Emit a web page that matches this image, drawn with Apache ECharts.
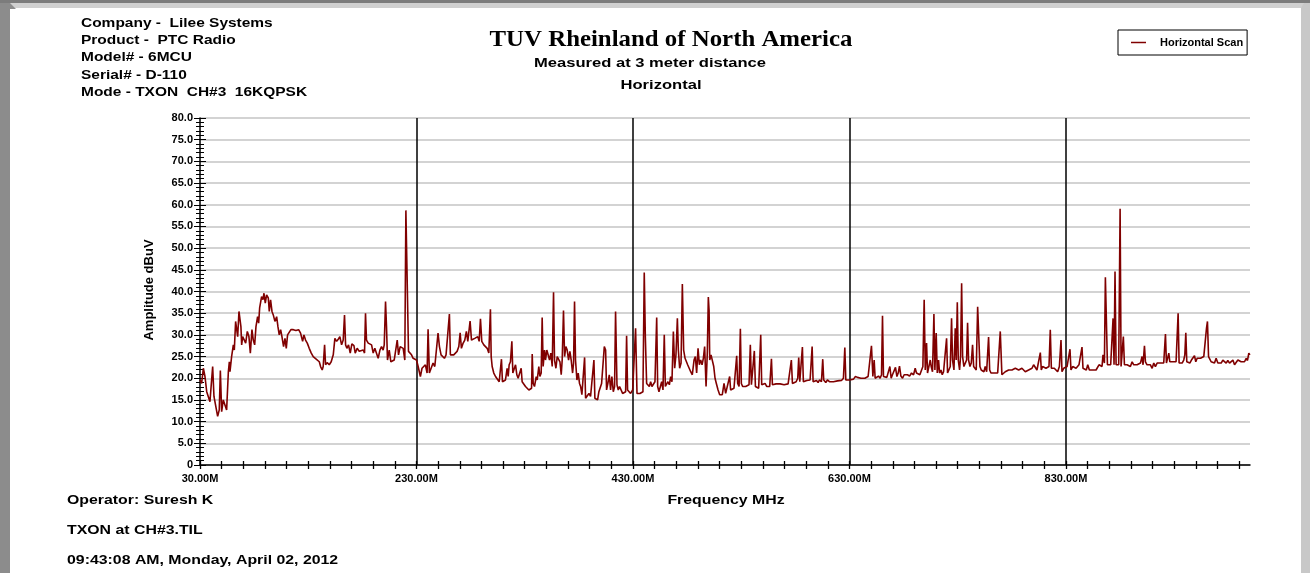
<!DOCTYPE html>
<html>
<head>
<meta charset="utf-8">
<script src="https://cdn.jsdelivr.net/npm/echarts@6/dist/echarts.min.js"></script>
<style>
  html, body { margin: 0; padding: 0; background: #fff; }
  #chart { width: 1310px; height: 573px; }
</style>
</head>
<body>
<div id="chart"></div>
<script>
// Radiated emission scan, horizontal antenna: [frequency MHz, amplitude dBuV]
const scan30to232 = [
  [30,19.6],[31.5,18.8],[33.1,22.3],[34.6,20.4],[36.2,16.9],[37.7,16.5],[39.2,14.6],[41.7,22.7],[42.9,15.8],[44.5,15.4],
  [46.3,11.2],[47.8,12.7],[48.8,21.8],[50,12.3],[51.5,15],[53.1,15.4],[54.6,12.7],[56.2,21.5],[57.1,23.8],[57.7,21.5],
  [59.2,25],[60.8,27.7],[61.7,26.5],[62.9,33.1],[63.8,33.5],[64.8,29.6],[66,35.4],[66.9,35],[67.8,31.9],[68.5,27.7],
  [69.4,29.6],[70.9,29.6],[72.2,28.1],[73.7,30.8],[75.2,29.6],[76.5,25.8],[78,31.2],[79.2,28.8],[80.5,27.7],[81.7,31.9],
  [83.2,34.2],[84.2,32.7],[85.1,36.2],[86,36.2],[86.9,38.8],[88.2,38.1],[89.1,39.6],[90.3,37.3],[91.5,39.2],[93.1,38.5],
  [94,35.4],[95.2,38.1],[96.5,35.4],[97.7,34.6],[99.2,33.1],[100.8,34.2],[102,31.9],[103.2,30],[104.5,31.2],[105.7,29.6],
  [107.2,27.3],[108.5,29.2],[109.7,26.9],[110.9,30],[112.5,30.4],[114,31.2],[116.2,31.2],[118.6,31],[121.1,31.2],[122.9,30.4],
  [124.8,28.5],[126,30],[127.5,28.8],[129.1,28.1],[130.9,26.9],[132.8,25.8],[134.6,25],[136.5,24.6],[138.3,24.2],[140.2,23.8],
  [141.4,22.7],[142.9,21.9],[143.8,22.7],[145.1,27.7],[146,23.1],[147.5,23.6],[149.4,23.1],[151.2,23.8],[153.1,25.4],[154.6,29.2],
  [156.2,28.5],[157.7,29],[159.2,29.6],[160.8,27.7],[162.3,28.8],[163.5,34.6],[164.5,27.7],[165.7,26.9],[167.2,27.7],[168.8,25.8],
  [170.3,27.9],[172.2,27.5],[173.4,25.8],[175.2,26.9],[177.1,26.2],[178.9,25.9],[180.8,26.5],[182,25.8],[182.9,35],[183.8,28.8],
  [185.4,28.1],[186.9,28.5],[188.5,27.7],[190,25.8],[191.5,26.9],[193.1,26.5],[194.6,24.6],[196.2,26.5],[197.7,27.3],[199.2,26.5],
  [200.2,27.7],[201.4,37.7],[202.3,31.9],[203.2,24.2],[204.8,26.5],[206.3,23.8],[207.8,23.5],[209.4,24.2],[210.9,23.8],[212.2,28.8],
  [213.4,25.4],[214.9,27.3],[216.5,27.7],[217.7,26.9],[219.2,24.2],[220.2,58.7],[221.4,58.5],[222.6,26.2],[223.8,25.8],[225.4,25.4],
  [226.9,24.6],[228.5,25],[230,24.2],[231.5,22.7]
];
const scan233to510 = [
  [233.6,20.4],[235.1,22.3],[236.7,22.7],[238.2,23.1],[239.8,21.2],[240.7,31.3],[241.9,21.2],[243.5,21.5],[245.3,23.5],[246.9,22.7],
  [248.4,23.1],[249.9,30.4],[251.2,27.3],[252.7,25.4],[254.3,25],[255.8,24.6],[257.3,25.4],[258.9,25],[260.4,34.8],[261.3,25.4],
  [262.9,25.2],[264.4,25.4],[266,25.4],[267.5,26.2],[269.1,27.3],[270.3,30.5],[271.5,26.9],[273.1,28.1],[274.6,28.8],[276.1,30.8],
  [277.4,28.5],[278.6,28.8],[279.5,33.2],[280.8,28.8],[282.3,29.2],[283.8,29.2],[285.4,28.8],[286.6,29.6],[287.9,28.5],[289.1,33.7],
  [290.3,28.5],[292.2,27.7],[293.7,27.3],[295.3,26.9],[296.8,25.8],[298.3,35.9],[299,25],[299.9,22.7],[301.4,21.2],[303,20.4],
  [304.5,20],[306.4,19.2],[307.6,18.8],[308.5,24.4],[309.4,19.2],[310.7,18.8],[312.2,19.6],[313.7,22.3],[314.7,20.4],[315.6,23.1],
  [316.8,23.8],[318.1,28.5],[319,21.2],[320.2,20.8],[321.5,23.1],[322.7,20.8],[323.9,20],[325.5,19.6],[326.7,22.3],[327.6,19.2],
  [329.2,18.8],[330.7,18.1],[332.2,18.5],[333.8,17.3],[335.3,16.9],[336.3,17.7],[336.9,25.6],[337.8,18.8],[339,18.1],[340.6,20.4],
  [341.5,19.6],[343,22.7],[344,20.4],[345.2,21.2],[346.1,34],[347,22.7],[348.3,26.5],[349.2,24.2],[350.4,26.5],[351.7,26.2],
  [352.9,24.2],[354.1,25.8],[355.4,22.7],[356.6,39.8],[357.5,24.2],[358.8,22.3],[360,25],[361.2,25.2],[362.5,23.8],[363.7,20.8],
  [364.6,24.2],[365.8,35.6],[366.8,25],[368,27.3],[369.2,26.5],[370.5,24.2],[371.7,26.2],[372.9,24.2],[374.2,21.2],[375.1,23.5],
  [376,37.7],[376.9,24.2],[378.2,19.6],[379.4,21.2],[380.6,18.8],[381.6,18.1],[382.8,16.2],[384,15.8],[385.3,24.8],[386.2,15.4],
  [387.7,15.8],[389.3,16.5],[390.8,15.8],[392.4,16.2],[393.9,24.2],[394.8,15.4],[396.1,15.8],[397.3,15],[398.5,16.9],[399.8,17.3],
  [401,18.8],[402.2,19.2],[403.5,27.3],[404.7,26.5],[405.6,17.3],[406.8,18.8],[408.1,20.8],[409.3,17.3],[410.5,20.4],[411.8,16.9],
  [413,18.1],[413.9,35.4],[415.2,18.5],[416.4,17.3],[417.6,18.1],[418.9,17.7],[420.4,16.5],[422,16.2],[423.2,16.9],[424.1,29.8],
  [425,17.3],[426.3,17.3],[427.8,16.5],[429.7,17.3],[431.2,16.9],[432.4,31.5],[433.7,16.5],[434.9,16.9],[436.4,16.5],[438,16.5],
  [439.2,16.9],[440.4,44.4],[441.4,29.6],[442.6,18.8],[443.8,19.2],[445.1,18.1],[446.3,19.2],[447.5,18.1],[448.8,18.5],[450.3,19.2],
  [451.9,34],[452.8,18.1],[454,16.9],[455.2,17.3],[456.5,19.2],[457.7,17.3],[458.9,30],[459.9,18.1],[461.1,17.7],[462.3,19.2],
  [463.6,18.5],[464.8,20.4],[466,19.2],[467.3,30.8],[468.5,22.3],[469.7,25.4],[471,33.8],[471.9,26.5],[473.1,22.3],[474.4,23.5],
  [475.6,41.7],[476.8,26.5],[478.1,24.6],[479.3,24.2],[480.5,23.1],[482,23.5],[483.3,21.5],[484.8,20.8],[486.4,24.2],[487.6,25],
  [488.8,21.2],[490.1,26.9],[491.3,23.1],[492.5,24.2],[493.8,23.1],[495,24.6],[496.2,27.3],[497.5,18.1],[498.7,26.2],[499.6,38.7],
  [500.3,35.6],[500.9,24.2],[502.1,25.4],[503.3,25],[504.6,22.7],[505.8,20],[507,18.8],[508.6,17.3],[510.1,16.2]
];
const scan510to770 = [
  [511,16.5],[512.5,16.2],[514.1,18.8],[515.6,16.5],[517.2,16.9],[519.3,20.4],[520.2,17.3],[521.8,17.7],[523.3,17.7],[524.9,18.1],
  [525.8,25.2],[526.7,18.8],[528,18.1],[529.2,31.4],[530.1,18.8],[531.3,18.1],[532.6,17.7],[534.1,18.1],[535.7,17.7],[537.2,18.5],
  [538.4,27.7],[539.4,18.5],[540.9,18.1],[542.1,26.3],[543.1,18.1],[544.9,18.1],[546.1,17.7],[548,30],[548.9,18.5],[550.5,18.1],
  [552,18.8],[553.5,18.1],[555.1,18.5],[556.3,18.1],[557.9,24.5],[558.8,18.5],[560.3,18.2],[562.2,18.7],[564,18.8],[565.9,18.7],
  [567.7,19],[569.6,18.5],[571.4,18.8],[573.3,18.7],[574.8,19],[576.3,24.2],[577.3,18.8],[578.8,19],[580.7,19.2],[582.2,20],
  [583.1,24.8],[584.1,19.2],[585,19.4],[586.5,27.2],[587.4,19.2],[589,19.2],[590.5,19.5],[592.1,19.2],[593.6,19.6],[595.5,27.3],
  [596.4,19.2],[597.9,19],[599.5,19.5],[601,19],[602.2,19.6],[604.1,19.2],[605.3,24.4],[606.2,19.6],[608.1,19],[609.6,19.6],
  [611.5,19.2],[613.3,19.5],[615.2,19.2],[617,19.6],[618.9,19.4],[620.7,19.8],[622.6,19.5],[624.4,20],[625.7,27.1],[626.6,19.6],
  [628.1,19.5],[630,19.6],[631.8,20],[633.7,19.8],[635.5,20.4],[637.4,20.2],[638.9,20.5],[640.5,20],[642.3,20.2],[644.2,20],
  [645.7,20.4],[647.2,20.4],[648.8,20.8],[650.3,27.5],[651.6,20.4],[652.8,24.2],[653.7,20],[655.3,20.4],[656.8,20.5],[658.3,20],
  [659.6,20.8],[660.5,34.4],[661.4,20.4],[663,20.8],[664.5,20.2],[666.1,20.4],[667.3,22.7],[668.5,20],[669.7,20.8],[671.3,21.2],
  [672.5,22.5],[673.8,20.4],[675,21.2],[676.2,22.8],[677.5,20.5],[679,20],[680.5,20.8],[682.1,20.4],[683.6,20.8],[685.5,20.5],
  [687.3,21.2],[689.2,20.8],[690.7,22.3],[691.9,21.2],[693.5,20.8],[695,20.8],[696.6,21.2],[697.8,22.7],[699,38.1],[700,21.9],
  [701.2,28.1],[702.1,21.2],[703.4,21.5],[704.6,24.2],[705.5,22.7],[706.7,21.5],[708,34.8],[708.9,21.9],[710.1,30.4],[711.1,21.2],
  [712.3,24.2],[713.2,21.2],[714.5,21.9],[715.7,20.8],[716.9,21.5],[718.1,21.2],[719.7,29.2],[720.6,21.2],[721.8,21.9],[723.1,22.7],
  [724.3,33.8],[725.2,24.2],[726.5,21.9],[727.7,31.5],[728.6,24.2],[729.6,37.5],[730.5,24.2],[731.7,21.9],[732.6,25],[733.6,41.9],
  [734.5,25],[735.7,22.7],[737,23.5],[738.2,24.2],[739.1,32.8],[740,24.2],[741.3,22.7],[742.5,23.5],[743.7,27.7],[744.7,22.7],
  [745.9,22.3],[747.1,21.9],[748.4,36.5],[749.6,36.2],[750.5,22.7],[751.7,21.9],[753,22.3],[754.2,21.5],[755.4,22.7],[756.7,21.5],
  [757.6,21.9],[758.5,29.5],[759.5,21.9],[760.7,21.2],[762.2,21.5],[763.8,21.2],[765.3,21.5],[766.9,21.2],[768.4,21.5],[769.3,30.8]
];
const scan770to1000 = [
  [770.8,20.8],[772.4,21.2],[773.9,21.5],[775.5,21.2],[777,21.9],[778.5,21.5],[780.1,21.9],[781.6,21.5],[783.2,22.3],[784.7,21.9],
  [786.3,21.9],[787.8,21.5],[789.3,22.3],[790.9,21.9],[792.4,21.5],[794,21.5],[795.5,21.9],[797,21.5],[798.6,22.3],[800.1,23.1],
  [801.7,22.7],[803.2,21.9],[804.7,22.3],[806.3,25.9],[807.2,21.9],[808.4,22.7],[810,22.3],[811.5,22.3],[813.1,22.3],[814.3,22.7],
  [815.5,31.2],[816.5,22.3],[817.7,21.9],[819.2,22.3],[820.8,21.9],[822.3,21.5],[823.9,22.7],[825.4,28.8],[826.3,21.5],[827.9,22.3],
  [829.4,22.7],[831,22.7],[832.5,22.3],[833.7,26.7],[834.6,21.9],[836.2,22.7],[837.7,22.3],[839.3,22.3],[840.8,21.9],[842,23.1],
  [843.3,22.7],[844.8,27.2],[845.7,22.3],[847.3,22.7],[848.8,21.9],[850.1,23.1],[851.6,21.9],[853.1,22.3],[854.7,21.9],[856.2,22.3],
  [857.8,21.9],[859.3,22.3],[860.5,23.1],[861.8,22.7],[863.3,22.7],[864.2,25.4],[865.5,23.5],[866.4,43.3],[867.3,43.5],[868.3,23.1],
  [869.8,22.7],[871.3,23.1],[872.6,22.7],[873.5,33.8],[874.4,23.1],[875.3,44.6],[876.3,23.1],[877.5,22.7],[878.7,23.1],[880,59.1],
  [880.9,22.7],[882.1,23.1],[883,29.6],[884,23.1],[885.2,22.7],[886.4,23.1],[888,23.5],[889.5,22.7],[891.1,23.8],[892.6,23.1],
  [894.1,23.5],[895.7,23.1],[897.2,22.7],[898.8,23.5],[900.3,25],[901.2,23.1],[902.5,27.5],[903.4,23.8],[904.9,23.1],[906.5,23.5],
  [908,23.1],[909.6,22.3],[911.1,23.5],[912.6,22.7],[914.2,23.5],[915.7,23.1],[917.3,23.5],[918.8,23.8],[920.3,23.5],[921.9,30.2],
  [922.8,23.5],[924,23.8],[925,25.8],[925.9,23.8],[927.1,23.5],[928.7,23.8],[930.2,23.5],[931.7,23.8],[933.6,35],[934.5,23.5],
  [935.8,23.8],[937.3,23.5],[938.8,24.2],[939.8,25.4],[940.7,30.5],[941.6,23.8],[942.8,24.2],[944.4,23.5],[945.9,24.2],[947.5,24.6],
  [948.7,25.2],[949.9,23.8],[951.2,24.6],[952.7,24.2],[954.3,24.6],[955.8,24.2],[957.3,25],[958.9,24.6],[959.8,31.5],[960.7,33.1],
  [961.7,25],[962.9,24.6],[964.1,23.8],[965.7,24.2],[967.2,23.5],[968.7,24.6],[970.3,23.5],[971.8,23.8],[973.4,23.5],[974.9,24.2],
  [976.4,23.8],[978,23.5],[979.5,24.1],[981.1,23.5],[982.6,23.8],[984.2,24.2],[985.7,23.1],[987.2,23.5],[988.8,24.2],[990.3,23.8],
  [991.8,23.8],[993.4,24.2],[994.9,23.8],[996.5,24.6],[997.7,24.1],[998.9,25.8],[999.9,25.4]
];

// Axis scales
const freqStart = 30;
const freqStop = 1000;
const freqLabelValues = [30, 230, 430, 630, 830];
const freqTickValues = [30, 50, 70, 90, 110, 130, 150, 170, 190, 210, 230, 250, 270, 290, 310, 330, 350, 370, 390, 410,
  430, 450, 470, 490, 510, 530, 550, 570, 590, 610, 630, 650, 670, 690, 710, 730, 750, 770, 790, 810,
  830, 850, 870, 890, 910, 930, 950, 970, 990];
const ampMin = 0;
const ampMax = 80;
const ampStep = 5;

// Report texts
const seriesName = 'Horizontal Scan';
const titleText = 'TUV Rheinland of North America';
const subtitleText = 'Measured at 3 meter distance';
const polarisationText = 'Horizontal';
const headerLines = ['Company -  Lilee Systems', 'Product -  PTC Radio', 'Model# - 6MCU', 'Serial# - D-110', 'Mode - TXON  CH#3  16KQPSK'];
const footerLines = ['Operator: Suresh K', 'TXON at CH#3.TIL', '09:43:08 AM, Monday, April 02, 2012'];
const xAxisName = 'Frequency MHz';
const yAxisName = 'Amplitude dBuV';

const SANS = "'Liberation Sans', Arial, Helvetica, sans-serif";
const SERIF = "'Liberation Serif', 'Times New Roman', serif";

const scanData = scan30to232.concat(scan233to510, scan510to770, scan770to1000);

const chart = echarts.init(document.getElementById('chart'), null, { renderer: 'canvas' });

function boldText(text, x, y, size, opts) {
  return Object.assign({
    type: 'text', x: x, y: y, silent: true,
    style: {
      text: text, fill: '#000', fontFamily: SANS, fontWeight: 'bold', fontSize: size,
      align: (opts && opts.align) || 'left', verticalAlign: 'middle'
    }
  }, opts && opts.transform);
}

const graphics = [
  // window frame
  { type: 'rect', shape: { x: 0, y: 0, width: 1310, height: 8 }, style: { fill: '#d0d0d0' }, silent: true },
  { type: 'rect', shape: { x: 0, y: 0, width: 1310, height: 3 }, style: { fill: '#7c7c7c' }, silent: true },
  { type: 'polygon', shape: { points: [[0, 3], [10, 3], [16, 9], [10, 9], [10, 573], [0, 573]] }, style: { fill: '#8c8c8c' }, silent: true },
  { type: 'polygon', shape: { points: [[1301, 8], [1304, 3], [1310, 3], [1310, 573], [1301, 573]] }, style: { fill: '#c8c8c8' }, silent: true },
  // title block
  { type: 'text', x: 671, y: 40, scaleX: 1.08, silent: true,
    style: { text: titleText, fill: '#000', fontFamily: SERIF, fontWeight: 'bold', fontSize: 23, align: 'center', verticalAlign: 'middle' } },
  boldText(subtitleText, 650, 64, 12, { align: 'center', transform: { scaleX: 1.38 } }),
  boldText(polarisationText, 661, 86, 12, { align: 'center', transform: { scaleX: 1.38 } }),
  boldText(xAxisName, 726, 500, 13, { align: 'center', transform: { scaleX: 1.22 } }),
  boldText(yAxisName, 149, 290, 13, { align: 'center', transform: { rotation: Math.PI / 2 } })
];
headerLines.forEach((t, i) => graphics.push(boldText(t, 81, 23 + i * 17.4, 13, { transform: { scaleX: 1.19 } })));
footerLines.forEach((t, i) => graphics.push(boldText(t, 67, 500 + i * 30, 13, { transform: { scaleX: 1.22 } })));

const labelFont = { fontFamily: SANS, fontWeight: 'bold', fontSize: 11, color: '#000' };

function tickAxisX(inside) {
  return {
    type: 'value', gridIndex: 0, position: 'bottom', min: freqStart, max: freqStop, interval: 20,
    axisLine: { show: false }, axisLabel: { show: false }, splitLine: { show: false },
    axisTick: { show: true, inside: inside, length: 4, customValues: freqTickValues, lineStyle: { color: '#000', width: 1.3 } }
  };
}

chart.setOption({
  animation: false,
  backgroundColor: '#ffffff',
  grid: { left: 200, top: 118, width: 1050, height: 347, containLabel: false },
  legend: {
    data: [seriesName],
    left: 1118, top: 30,
    icon: 'rect', itemWidth: 15, itemHeight: 1.5,
    padding: [7, 4, 7, 13],
    borderColor: '#000', borderWidth: 1, backgroundColor: '#fff',
    selectedMode: false,
    textStyle: { fontFamily: SANS, fontWeight: 'bold', fontSize: 11, color: '#000', padding: [0, 0, 0, 9] }
  },
  xAxis: [
    {
      type: 'value', gridIndex: 0, position: 'bottom', min: freqStart, max: freqStop, interval: 200,
      axisLine: { show: true, onZero: false, lineStyle: { color: '#000', width: 1.5 } },
      axisTick: { show: false },
      axisLabel: Object.assign({ customValues: freqLabelValues, margin: 8,
        formatter: v => v.toFixed(2) + 'M' }, labelFont),
      splitLine: { show: true, showMinLine: false, showMaxLine: false, lineStyle: { color: '#000', width: 1.5 } }
    },
    tickAxisX(false),
    tickAxisX(true)
  ],
  yAxis: [
    {
      type: 'value', gridIndex: 0, position: 'left', min: ampMin, max: ampMax, interval: ampStep,
      axisLine: { show: true, onZero: false, lineStyle: { color: '#000', width: 1.5 } },
      axisTick: { show: true, length: 6, lineStyle: { color: '#000', width: 1 } },
      minorTick: { show: true, splitNumber: 5, length: 4, lineStyle: { color: '#000', width: 1 } },
      axisLabel: Object.assign({ margin: 7, formatter: v => (v === 0 ? '0' : v.toFixed(1)) }, labelFont),
      splitLine: { show: true, lineStyle: { color: '#c4c4c4', width: 1.5 } }
    },
    {
      type: 'value', gridIndex: 0, position: 'left', min: ampMin, max: ampMax, interval: ampStep,
      axisLine: { show: false }, axisLabel: { show: false }, splitLine: { show: false },
      axisTick: { show: true, inside: true, length: 6, lineStyle: { color: '#000', width: 1 } },
      minorTick: { show: true, splitNumber: 5, length: 4, lineStyle: { color: '#000', width: 1 } }
    }
  ],
  series: [{
    name: seriesName,
    type: 'line',
    xAxisIndex: 0, yAxisIndex: 0,
    data: scanData,
    showSymbol: false,
    symbol: 'none',
    color: '#800000',
    lineStyle: { color: '#800000', width: 1.6 },
    z: 5
  }],
  graphic: graphics
});
</script>
</body>
</html>
